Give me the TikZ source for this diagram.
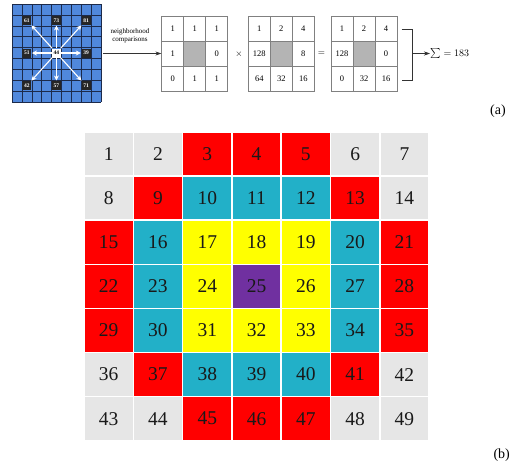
\documentclass[tikz,border=0pt]{standalone}
\usepackage{fontspec}
\setmainfont{Liberation Serif}
\usetikzlibrary{arrows.meta}
\definecolor{cG}{HTML}{E6E6E6}
\definecolor{cR}{HTML}{FF0000}
\definecolor{cC}{HTML}{22B0C8}
\definecolor{cY}{HTML}{FFFF00}
\definecolor{cP}{HTML}{7030A0}
\definecolor{gridblue}{HTML}{5088DC}
\definecolor{gridline}{HTML}{1C2A4A}
\definecolor{mborder}{HTML}{808080}
\definecolor{mgray}{HTML}{B4B4B4}
\begin{document}
\begin{tikzpicture}[x=1pt,y=-1pt,
  bigcell/.style={minimum width=47.7pt,minimum height=42.5pt,inner sep=0pt,
    font=\fontsize{19.5}{19.5}\selectfont,text=black!90},
  mcell/.style={draw=mborder,line width=0.6pt,minimum width=22pt,minimum height=25pt,
    inner sep=0pt,font=\fontsize{8.5}{8.5}\selectfont},
  lab/.style={fill=black!85,text=white,minimum size=9pt,inner sep=0pt,
    font=\fontsize{5.5}{5.5}\selectfont\bfseries},
  warrow/.style={draw=white,line width=1.1pt,-{Stealth[length=5pt,width=5pt]},shorten >=0.5pt},
  conn/.style={draw=black!80,line width=0.6pt,-{Stealth[length=6pt,width=4pt]}},
  sub/.style={font=\fontsize{14}{14}\selectfont}]
\useasboundingbox (0,0) rectangle (524,469);

% ---- top-left blue grid ----
\fill[gridblue] (12,4) rectangle (100.8,102);
\foreach \i in {0,...,9} {
  \draw[gridline,line width=0.45pt] ({12+9.867*\i},4) -- ({12+9.867*\i},102);
  \draw[gridline,line width=0.45pt] (12,{4+10.889*\i}) -- (100.8,{4+10.889*\i});
}
\node[lab] (n61) at (26.8,20.3) {61};
\node[lab] (n73) at (56.4,20.3) {73};
\node[lab] (n81) at (86.0,20.3) {81};
\node[lab] (n51) at (26.8,53.0) {51};
\node[lab,fill=white,text=black] (n44) at (56.4,53.0) {44};
\node[lab] (n39) at (86.0,53.0) {39};
\node[lab] (n42) at (26.8,85.7) {42};
\node[lab] (n57) at (56.4,85.7) {57};
\node[lab] (n71) at (86.0,85.7) {71};
\foreach \t in {n61,n73,n81,n51,n39,n42,n57,n71}
  \draw[warrow] (n44) -- (\t);

% ---- neighborhood comparison arrow ----
\coordinate (lstart) at (103,53.5);
\node[font=\fontsize{7}{8}\selectfont,align=center,inner sep=0pt] (nbtext) at (130,36)
  {neighborhood\\comparisons};

% ---- matrices ----
\foreach \m/\x/\vals in {1/161.7/{1,1,1,1,,0,0,1,1},
                          2/248.3/{1,2,4,128,,8,64,32,16},
                          3/331/{1,2,4,128,,0,0,32,16}} {
  \foreach \v [count=\k] in \vals {
    \pgfmathtruncatemacro\rr{(\k-1)/3}
    \pgfmathtruncatemacro\cc{mod(\k-1,3)}
    \node[mcell] (m\m c\k) at ({\x+22*(\cc+0.5)},{16+25*(\rr+0.5)}) {\v};
  }
  \node[mcell,fill=mgray] at (m\m c5) {};
}
\draw[conn] (lstart) -- (m1c4.west);
\node[font=\fontsize{9}{9}\selectfont] (times) at (239,54) {$\times$};
\node[font=\fontsize{9}{9}\selectfont] (equal) at (321.5,54) {$=$};

% ---- bracket and sum ----
\coordinate (bt1) at (401.7,29);
\coordinate (bt2) at (412,29);
\coordinate (bb2) at (412,80);
\coordinate (bb1) at (401.7,80);
\coordinate (bm) at (412,53.5);
\draw[black!80,line width=0.6pt] (bt1) -- (bt2) -- (bb2) -- (bb1);
\node[anchor=west,inner sep=0pt,font=\fontsize{10}{10}\selectfont] (sum) at (430,53.5) {$\sum = 183$};
\draw[conn] (bm) -- (sum.west);

\node[sub] (la) at (498,111.5) {(a)};

% ---- bottom grid ----
\foreach \col [count=\n] in {G,G,R,R,R,G,G,
                             G,R,C,C,C,R,G,
                             R,C,Y,Y,Y,C,R,
                             R,C,Y,P,Y,C,R,
                             R,C,Y,Y,Y,C,R,
                             G,R,C,C,C,R,G,
                             G,G,R,R,R,G,G} {
  \pgfmathtruncatemacro\rr{(\n-1)/7}
  \pgfmathtruncatemacro\cc{mod(\n-1,7)}
  \node[bigcell,fill=c\col] (b\n) at ({84+49.3*(\cc+0.5)},{132+44.1*(\rr+0.5)}) {\n};
}
\node[sub] (lb) at (501.7,455) {(b)};
\end{tikzpicture}
\end{document}
